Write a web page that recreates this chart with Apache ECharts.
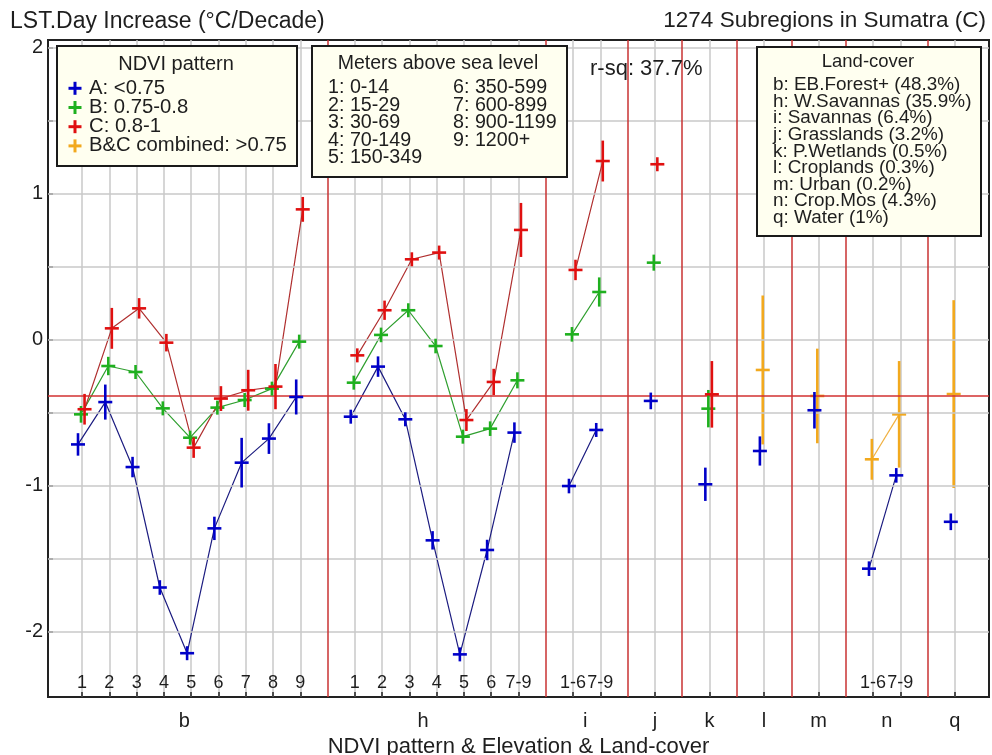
<!DOCTYPE html>
<html><head><meta charset="utf-8">
<script src="https://cdn.jsdelivr.net/npm/echarts@6/dist/echarts.min.js"></script>
<style>html,body{margin:0;padding:0;background:#fff}#c{width:992px;height:755px}</style>
</head><body><div id="c"></div>
<script>
// ---------- DATA ----------
const groupNames = ['b','h','i','j','k','l','m','n','q'];
const groupSizes = [9, 7, 2, 1, 1, 1, 1, 2, 1];
const groupLabelAt = [4.75, 13.5, 19.45, 22, 24, 26, 28, 30.5, 33];
const elevationLabels = ['1','2','3','4','5','6','7','8','9',
  '1','2','3','4','5','6','7-9',
  '1-6','7-9', '', '', '', '', '1-6','7-9', ''];

// NDVI class A (<0.75)
const classA = [-0.72,-0.43,-0.875,-1.70,-2.15,-1.295,-0.845,-0.68,-0.395,
  -0.53,-0.187,-0.548,-1.377,-2.158,-1.443,-0.639,
  -1.005,-0.621, -0.422, -0.993, -0.765, -0.486, -1.571,-0.932, -1.25];
const errA = [0.077,0.12,0.07,0.05,0.04,0.08,0.17,0.105,0.12,
  0.045,0.07,0.045,0.063,0.04,0.07,0.07,
  0.05,0.035, 0.057, 0.114, 0.1, 0.125, 0.05,0.05, 0.057];
// NDVI class B (0.75-0.8)
const classB = [-0.514,-0.183,-0.224,-0.473,-0.674,-0.468,-0.416,-0.338,-0.016,
  -0.297,0.03,0.199,-0.046,-0.667,-0.612,-0.281,
  0.034,0.324, 0.525, -0.475, null, null, null,null, null];
const errB = [0.057,0.063,0.045,0.035,0.035,0.04,0.035,0.04,0.035,
  0.035,0.05,0.04,0.05,0.04,0.05,0.055,
  0.05,0.1, 0.055, 0.128, null, null, null,null, null];
// NDVI class C (0.8-1)
const classC = [-0.479,0.075,0.212,-0.023,-0.742,-0.406,-0.349,-0.324,0.89,
  -0.11,0.199,0.548,0.594,-0.553,-0.292,0.749,
  0.475,1.221, 1.199, -0.377, null, null, null,null, null];
const errC = [0.105,0.14,0.07,0.06,0.07,0.085,0.14,0.155,0.085,
  0.035,0.066,0.035,0.04,0.075,0.09,0.185,
  0.07,0.14, 0.04, 0.228, null, null, null,null, null];
// B&C combined (>0.75)
const classBC = [null,null,null,null,null,null,null,null,null,
  null,null,null,null,null,null,null,
  null,null, null, null, -0.21, -0.388, -0.822,-0.514, -0.375];
const errBC = [null,null,null,null,null,null,null,null,null,
  null,null,null,null,null,null,null,
  null,null, null, null, 0.51, 0.324, 0.14,0.365, 0.643];

const referenceLevel = -0.385;
const yTickValues = [-2,-1.5,-1,-0.5,0,0.5,1,1.5,2];

const ndviLegend = ['A: <0.75','B: 0.75-0.8','C: 0.8-1','B&C combined: >0.75'];
const elevLegendLeft = ['1: 0-14','2: 15-29','3: 30-69','4: 70-149','5: 150-349'];
const elevLegendRight = ['6: 350-599','7: 600-899','8: 900-1199','9: 1200+'];
const landCoverLegend = ['b: EB.Forest+ (48.3%)','h: W.Savannas (35.9%)','i: Savannas (6.4%)',
  'j: Grasslands (3.2%)','k: P.Wetlands (0.5%)','l: Croplands (0.3%)','m: Urban (0.2%)',
  'n: Crop.Mos (4.3%)','q: Water (1%)'];
const rsqText = 'r-sq: 37.7%';

// ---------- LAYOUT HELPERS ----------
const slotPos = [], slotGroup = [], separators = [];
(function(){
  let p = 1;
  groupSizes.forEach((n, g) => {
    for (let k = 0; k < n; k++) { slotPos.push(p++); slotGroup.push(g); }
    if (g < groupSizes.length - 1) { separators.push(p); p++; }
  });
})();

const FONT = '"Liberation Sans", Arial, Helvetica, sans-serif';
const COLORS = {
  A: {mark:'#0000c8', line:'#1c1c80', off:-0.15},
  B: {mark:'#1fb01f', line:'#2f9f2f', off:-0.04},
  C: {mark:'#e01010', line:'#b03030', off:0.09},
  BC:{mark:'#f2a91e', line:'#f0b040', off:-0.045}
};

function build(vals, errs, off) {
  const pts = [], line = [];
  let prevG = -1;
  vals.forEach((v, i) => {
    if (v == null) {
      if (line.length && line[line.length-1][1] !== '-') line.push([slotPos[i], '-']);
      prevG = -1; return;
    }
    if (prevG !== -1 && prevG !== slotGroup[i]) line.push([slotPos[i] - 1, '-']);
    line.push([slotPos[i] + off, v]);
    pts.push([slotPos[i] + off, v, errs[i]]);
    prevG = slotGroup[i];
  });
  return {pts, line};
}

function lineSeries(d, c) {
  return {type:'line', data:d.line, symbol:'none', showSymbol:false, connectNulls:false,
    lineStyle:{color:c.line, width:1.2}, z:3, silent:true, animation:false};
}
function crossSeries(d, c, z) {
  return {type:'custom', data:d.pts, z:z, silent:true, animation:false,
    encode:{x:0, y:1},
    renderItem(params, api) {
      const x = api.value(0), y = api.value(1), e = api.value(2) || 0;
      const pt = api.coord([x, y]);
      const t = api.coord([x, y + e])[1], b = api.coord([x, y - e])[1];
      const y1 = Math.min(t, pt[1] - 7), y2 = Math.max(b, pt[1] + 7);
      const st = {stroke:c.mark, lineWidth:2.6};
      return {type:'group', children:[
        {type:'line', shape:{x1:pt[0]-7, y1:pt[1], x2:pt[0]+7, y2:pt[1]}, style:st},
        {type:'line', shape:{x1:pt[0], y1:y1, x2:pt[0], y2:y2}, style:st}
      ]};
    }};
}

const dA = build(classA, errA, COLORS.A.off);
const dB = build(classB, errB, COLORS.B.off);
const dC = build(classC, errC, COLORS.C.off);
const dBC = build(classBC, errBC, COLORS.BC.off);

// ---------- GRAPHICS (legend boxes, titles) ----------
const TXT = '#1e1e1e';
function txt(x, y, s, size, align) {
  return {type:'text', x:x, y:y, z:102, silent:true,
    style:{text:s, font:size + 'px ' + FONT, fill:TXT, align:align || 'left', verticalAlign:'middle'}};
}
const graphics = [];
graphics.push(txt(10, 22, 'LST.Day Increase (°C/Decade)', 23));
graphics.push(txt(986, 21, '1274 Subregions in Sumatra (C)', 22.5, 'right'));
// NDVI legend
graphics.push({type:'rect', z:100, silent:true, shape:{x:57, y:46, width:240, height:120},
  style:{fill:'#fffff0', stroke:'#1a1a1a', lineWidth:2}});
graphics.push(txt(176, 64, 'NDVI pattern', 20, 'center'));
const legendCols = [COLORS.A.mark, COLORS.B.mark, COLORS.C.mark, COLORS.BC.mark];
ndviLegend.forEach((s, i) => {
  const cy = 88.3 + i * 19.2;
  graphics.push({type:'line', z:102, silent:true, shape:{x1:68.5, y1:cy, x2:81.5, y2:cy}, style:{stroke:legendCols[i], lineWidth:3}});
  graphics.push({type:'line', z:102, silent:true, shape:{x1:75, y1:cy-6.5, x2:75, y2:cy+6.5}, style:{stroke:legendCols[i], lineWidth:3}});
  graphics.push(txt(89, cy, s, 20.3));
});
// Elevation legend
graphics.push({type:'rect', z:100, silent:true, shape:{x:312, y:46, width:255, height:131},
  style:{fill:'#fffff0', stroke:'#1a1a1a', lineWidth:2}});
graphics.push(txt(438, 64, 'Meters above sea level', 19.5, 'center'));
elevLegendLeft.forEach((s, i) => graphics.push(txt(328, 87.5 + i * 17.6, s, 19.7)));
elevLegendRight.forEach((s, i) => graphics.push(txt(453, 87.5 + i * 17.6, s, 19.7)));
// r-sq
graphics.push(txt(590, 68.5, rsqText, 22));
// Land-cover legend
graphics.push({type:'rect', z:100, silent:true, shape:{x:757, y:47, width:224, height:189},
  style:{fill:'#fffff0', stroke:'#1a1a1a', lineWidth:2}});
graphics.push(txt(868, 62, 'Land-cover', 18.5, 'center'));
landCoverLegend.forEach((s, i) => graphics.push(txt(773, 85 + i * 16.6, s, 18.9)));

// ---------- CHART ----------
const chart = echarts.init(document.getElementById('c'), null, {renderer:'canvas'});
const xMin = -0.25, xMax = 34.25;
const nearIdx = (arr, v) => arr.findIndex(a => Math.abs(a - v) < 1e-6);

chart.setOption({
  animation:false,
  backgroundColor:'#ffffff',
  grid:{left:48, right:3, top:40, bottom:58, containLabel:false, outerBoundsMode:'none',
    show:true, borderColor:'#222', borderWidth:2, backgroundColor:'#fff'},
  xAxis:[{
    type:'value', min:xMin, max:xMax, position:'bottom',
    axisLine:{show:false, onZero:false},
    axisTick:{show:true, inside:true, length:5, customValues:slotPos, lineStyle:{color:'#222', width:1.5}},
    splitLine:{show:true, lineStyle:{color:'#c8c8c8', width:1.5}},
    axisLabel:{customValues:groupLabelAt, margin:14, fontSize:20, fontFamily:FONT, color:TXT,
      formatter:v => { const i = nearIdx(groupLabelAt, v); return i >= 0 ? groupNames[i] : ''; }},
    name:'NDVI pattern & Elevation & Land-cover', nameLocation:'middle', nameGap:38,
    nameTextStyle:{fontSize:22, fontFamily:FONT, color:TXT}
  },{
    type:'value', min:xMin, max:xMax, position:'bottom', gridIndex:0,
    axisLine:{show:false, onZero:false}, axisTick:{show:false}, splitLine:{show:false},
    axisLabel:{inside:true, customValues:slotPos, margin:5, fontSize:18, fontFamily:FONT, color:TXT,
      formatter:v => { const i = nearIdx(slotPos, v); return i >= 0 ? elevationLabels[i] : ''; }}
  }],
  yAxis:{
    type:'value', min:-2.45, max:2.05,
    axisLine:{show:false, onZero:false},
    axisTick:{show:true, inside:true, length:5, customValues:yTickValues, lineStyle:{color:'#222', width:1.5}},
    splitLine:{show:false},
    axisLabel:{customValues:yTickValues, margin:5, fontSize:20, fontFamily:FONT, color:TXT,
      formatter:v => (Math.abs(v - Math.round(v)) < 1e-6 ? String(Math.round(v)) : '')}
  },
  series:[
    {type:'line', data:[], silent:true, z:1, animation:false,
      markLine:{silent:true, symbol:['none','none'], label:{show:false}, animation:false,
        data: yTickValues.map(v => ({yAxis:v, lineStyle:{color:'#c8c8c8', width:1.5, type:'solid'}}))}},
    {type:'line', data:[], silent:true, z:2, animation:false,
      markLine:{silent:true, symbol:['none','none'], label:{show:false}, animation:false,
        data: separators.map(v => ({xAxis:v, lineStyle:{color:'#c83232', width:1.5, type:'solid'}}))
          .concat([{yAxis:referenceLevel, lineStyle:{color:'#d23030', width:1.5, type:'solid'}}])}},
    lineSeries(dBC, COLORS.BC), lineSeries(dA, COLORS.A), lineSeries(dB, COLORS.B), lineSeries(dC, COLORS.C),
    crossSeries(dBC, COLORS.BC, 4), crossSeries(dA, COLORS.A, 5), crossSeries(dB, COLORS.B, 6), crossSeries(dC, COLORS.C, 7)
  ],
  graphic:graphics
});
</script></body></html>
